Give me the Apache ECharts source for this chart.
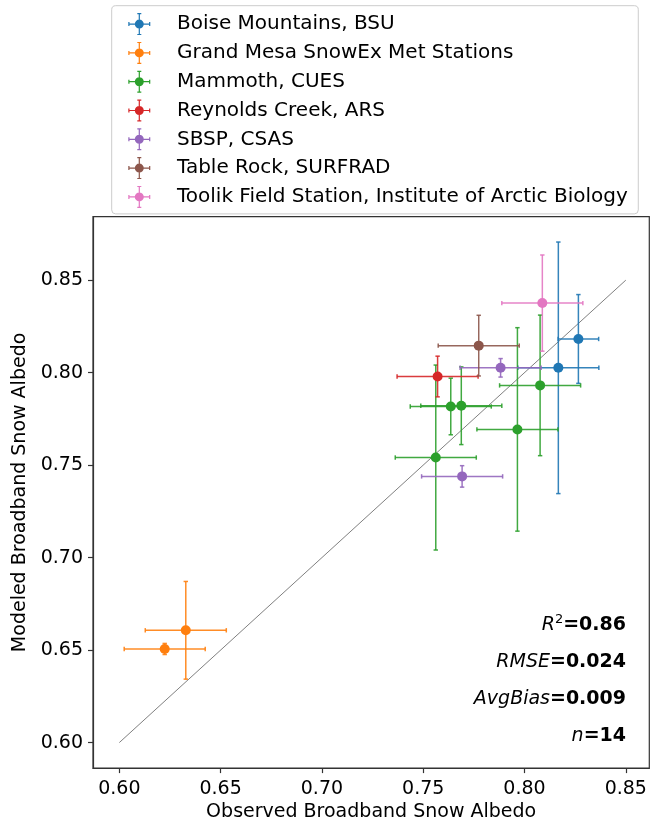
<!DOCTYPE html>
<html><head><meta charset="utf-8">
<script src="https://cdn.jsdelivr.net/npm/echarts@6/dist/echarts.min.js"></script>
<style>html,body{margin:0;padding:0;background:#fff}#c{width:651px;height:827px}</style>
</head><body><div id="c"></div>
<script>
// ---- data ----
const siteNames = [
  'Boise Mountains, BSU',
  'Grand Mesa SnowEx Met Stations',
  'Mammoth, CUES',
  'Reynolds Creek, ARS',
  'SBSP, CSAS',
  'Table Rock, SURFRAD',
  'Toolik Field Station, Institute of Arctic Biology'
];
const siteColors = ['#1f77b4','#ff7f0e','#2ca02c','#d62728','#9467bd','#8c564b','#e377c2'];
const pointSite   = [0, 0, 1, 1, 2, 2, 2, 2, 2, 3, 4, 4, 5, 6];
const observed    = [0.8266, 0.8167, 0.6328, 0.6224, 0.8077, 0.7636, 0.7688, 0.7965, 0.7562, 0.7571, 0.7882, 0.7692, 0.7774, 0.8088];
const modeled     = [0.8182, 0.8026, 0.6607, 0.6506, 0.7931, 0.7817, 0.7821, 0.7693, 0.7541, 0.7979, 0.8026, 0.7439, 0.8146, 0.8376];
const observedErr = [0.010, 0.020, 0.020, 0.020, 0.020, 0.020, 0.020, 0.020, 0.020, 0.020, 0.020, 0.020, 0.020, 0.020];
const modeledErr  = [0.024, 0.068, 0.0264, 0.003, 0.038, 0.0153, 0.021, 0.055, 0.050, 0.011, 0.005, 0.0058, 0.0164, 0.026];
const xTicks = [0.60, 0.65, 0.70, 0.75, 0.80, 0.85];
const yTicks = [0.60, 0.65, 0.70, 0.75, 0.80, 0.85];
const oneToOne = [0.60, 0.85];
const statLabels = ['R', 'RMSE', 'AvgBias', 'n'];
const statValues = ['0.86', '0.024', '0.009', '14'];

// ---- chart ----
const FONT = 'DejaVu Sans';
const chart = echarts.init(document.getElementById('c'), null, {renderer: 'canvas'});
const iconPath = 'path://M0,10.4H22V11.6H0Z M10.4,0H11.6V22H10.4Z M0,9H1.2V13H0Z M20.8,9H22V13H20.8Z M9,0H13V1.2H9Z M9,20.8H13V22H9Z M6.5,11A4.5,4.5,0,1,1,15.5,11A4.5,4.5,0,1,1,6.5,11Z';

const series = [{
  type: 'line', silent: true, symbol: 'none', z: 1,
  data: [[oneToOne[0], oneToOne[0]], [oneToOne[1], oneToOne[1]]],
  itemStyle: {color: '#808080'},
  lineStyle: {color: '#808080', width: 1}
}];
siteNames.forEach((name, s) => {
  const idx = pointSite.map((p, i) => p === s ? i : -1).filter(i => i >= 0);
  const color = siteColors[s];
  series.push({
    type: 'custom', name: name, z: 2, silent: true,
    itemStyle: {color: color},
    data: idx.map(i => [observed[i], modeled[i], observedErr[i], modeledErr[i]]),
    encode: {x: 0, y: 1},
    renderItem: function (params, api) {
      const x = api.value(0), y = api.value(1), xe = api.value(2), ye = api.value(3);
      const l = api.coord([x - xe, y]), r = api.coord([x + xe, y]);
      const t = api.coord([x, y + ye]), b = api.coord([x, y - ye]);
      const cap = 2.2;
      const seg = (x1, y1, x2, y2) => ({type: 'line', shape: {x1, y1, x2, y2},
        style: {stroke: color, lineWidth: 1.5, opacity: 0.9}});
      return {type: 'group', children: [
        seg(l[0], l[1], r[0], r[1]), seg(t[0], t[1], b[0], b[1]),
        seg(l[0], l[1] - cap, l[0], l[1] + cap), seg(r[0], r[1] - cap, r[0], r[1] + cap),
        seg(t[0] - cap, t[1], t[0] + cap, t[1]), seg(b[0] - cap, b[1], b[0] + cap, b[1])
      ]};
    }
  });
  series.push({
    type: 'scatter', name: name, z: 3, symbol: 'circle', symbolSize: 10,
    itemStyle: {color: color, opacity: 1},
    data: idx.map(i => [observed[i], modeled[i]])
  });
});

const statGraphics = statLabels.map((lab, k) => {
  const text = (k === 0 ? '{i|R}{s|2}' : '{i|' + lab + '}') + '{b|=' + statValues[k] + '}';
  return {
    type: 'text', x: 626, y: 625.5 + k * 37, z: 10,
    style: {
      text: text, fill: '#000', align: 'right', verticalAlign: 'middle',
      rich: {
        i: {fontFamily: FONT, fontSize: 19, fontStyle: 'italic', lineHeight: 24, fill: '#000'},
        s: {fontFamily: FONT, fontSize: 13, verticalAlign: 'top', lineHeight: 16, fill: '#000'},
        b: {fontFamily: FONT, fontSize: 19, fontWeight: 'bold', lineHeight: 24, fill: '#000'}
      }
    }
  };
});

chart.setOption({
  animation: false,
  backgroundColor: '#fff',
  color: siteColors,
  textStyle: {fontFamily: FONT},
  grid: {left: 93, right: 1.7, top: 216.7, bottom: 57, show: true, borderColor: '#333', borderWidth: 1.2, backgroundColor: 'transparent'},
  legend: {
    orient: 'vertical', left: 111.7, top: 5.7,
    padding: [7.4, 10.5, 6, 16.6],
    itemWidth: 22, itemHeight: 22, itemGap: 6.8,
    borderColor: '#cccccc', borderWidth: 1, borderRadius: 4, backgroundColor: '#fff',
    textStyle: {fontFamily: FONT, fontSize: 20, color: '#000', lineHeight: 22, padding: [0, 0, 0, 21.7]},
    data: siteNames.map(n => ({name: n, icon: iconPath})),
    selectedMode: false
  },
  xAxis: {
    type: 'value', min: 0.587, max: 0.8616,
    name: 'Observed Broadband Snow Albedo', nameLocation: 'middle', nameGap: 31,
    nameTextStyle: {fontFamily: FONT, fontSize: 19, color: '#000'},
    axisLine: {show: true, onZero: false, lineStyle: {color: '#333', width: 1.2}},
    axisTick: {show: true, length: 5, lineStyle: {color: '#333', width: 1.2}, customValues: xTicks},
    axisLabel: {fontFamily: FONT, fontSize: 19, color: '#000', margin: 11, customValues: xTicks,
      formatter: v => v.toFixed(2)},
    splitLine: {show: false}
  },
  yAxis: {
    type: 'value', min: 0.5862, max: 0.8843,
    name: 'Modeled Broadband Snow Albedo', nameLocation: 'middle', nameGap: 61,
    nameTextStyle: {fontFamily: FONT, fontSize: 19, color: '#000'},
    axisLine: {show: true, onZero: false, lineStyle: {color: '#333', width: 1.2}},
    axisTick: {show: true, length: 5, lineStyle: {color: '#333', width: 1.2}, customValues: yTicks},
    axisLabel: {fontFamily: FONT, fontSize: 19, color: '#000', margin: 10, customValues: yTicks,
      formatter: v => v.toFixed(2)},
    splitLine: {show: false}
  },
  graphic: statGraphics,
  series: series
});
</script></body></html>
